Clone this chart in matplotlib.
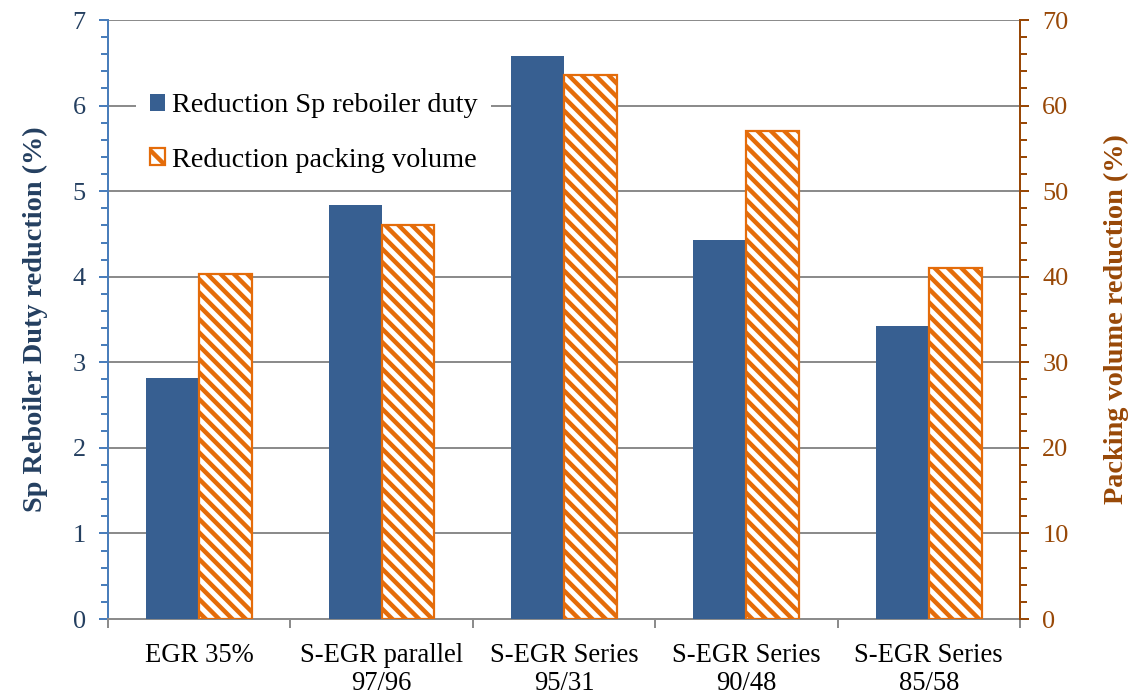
import numpy as np
import matplotlib
matplotlib.use("Agg")
import matplotlib.pyplot as plt
from matplotlib.ticker import MultipleLocator
from matplotlib.patches import Patch

# ── data ──────────────────────────────────────────────────────────────────────
CATEGORIES = ["EGR 35%", "S-EGR parallel\n97/96", "S-EGR Series\n95/31",
              "S-EGR Series\n90/48", "S-EGR Series\n85/58"]
DUTY_RED   = [2.82, 4.84, 6.58, 4.43, 3.42]      # left axis (%)
PACK_RED   = [40.3, 46.0, 63.6, 57.0, 41.0]      # right axis (%)

BLUE   = "#375F91"
ORANGE = "#E46C0A"
NAVY   = "#243F60"
BROWN  = "#984807"
GRID   = "#8C8C8C"

plt.rcParams["font.family"] = ["Liberation Serif", "DejaVu Serif"]
plt.rcParams["hatch.linewidth"] = 2.0

DPI = 160
fig = plt.figure(figsize=(1139 / DPI, 700 / DPI), dpi=DPI)
ax = fig.add_axes([0.0948, 0.1157, 0.8007, 0.8557])
ax2 = ax.twinx()

x = np.arange(len(CATEGORIES))
w = 0.29

ax.bar(x - w / 2, DUTY_RED, w, color=BLUE, zorder=3)
ax2.bar(x + w / 2, PACK_RED, w, facecolor="white", edgecolor=ORANGE,
        hatch="\\\\\\\\", linewidth=1.0, zorder=3)

# ── axes styling ──────────────────────────────────────────────────────────────
ax.set_xlim(-0.5, len(CATEGORIES) - 0.5)
ax.set_ylim(0, 7)
ax2.set_ylim(0, 70)

ax.yaxis.set_major_locator(MultipleLocator(1))
ax.yaxis.set_minor_locator(MultipleLocator(0.2))
ax2.yaxis.set_major_locator(MultipleLocator(10))
ax2.yaxis.set_minor_locator(MultipleLocator(2))

ax.grid(axis="y", color=GRID, linewidth=0.9, zorder=0)
ax.set_axisbelow(True)

ax.set_xticks(np.arange(len(CATEGORIES) + 1) - 0.5)
ax.set_xticklabels([])
ax.set_xticks(x, minor=True)
ax.set_xticklabels(CATEGORIES, minor=True, fontsize=12, ha="center",
                   linespacing=1.15)
ax.tick_params(axis="x", which="major", length=4, width=0.9, color=GRID,
               direction="out")
ax.tick_params(axis="x", which="minor", length=0, pad=11)

ax.tick_params(axis="y", which="major", length=4, width=0.9, color="#4A7EBB",
               labelcolor=NAVY, labelsize=11.8, pad=6)
ax.tick_params(axis="y", which="minor", length=3, width=0.9, color="#4A7EBB")
ax2.tick_params(axis="y", which="major", length=4, width=0.9, color=BROWN,
                labelcolor=BROWN, labelsize=11.8, pad=6)
ax2.tick_params(axis="y", which="minor", length=3, width=0.9, color=BROWN)

for a in (ax, ax2):
    a.spines["top"].set_visible(False)
ax.spines["bottom"].set_color(GRID)
ax.spines["bottom"].set_linewidth(0.9)
ax2.spines["bottom"].set_visible(False)
ax.spines["left"].set_color("#4A7EBB")
ax.spines["left"].set_linewidth(0.9)
ax2.spines["left"].set_visible(False)
ax.spines["right"].set_visible(False)
ax2.spines["right"].set_color(BROWN)
ax2.spines["right"].set_linewidth(0.9)

ax.set_ylabel("Sp Reboiler Duty reduction (%)", fontsize=12.7,
              fontweight="bold", color=NAVY, labelpad=11)
ax2.set_ylabel("Packing volume reduction (%)", fontsize=12.7,
               fontweight="bold", color=BROWN, labelpad=16, rotation=90)

handles = [Patch(facecolor=BLUE, edgecolor="none"),
           Patch(facecolor="white", edgecolor=ORANGE, hatch="\\\\\\", linewidth=1.0)]
leg = ax2.legend(handles, ["Reduction Sp reboiler duty", "Reduction packing volume"],
                 loc="upper left", bbox_to_anchor=(0.015, 0.925), fontsize=12.7,
                 frameon=True, framealpha=1, edgecolor="none", fancybox=False,
                 handlelength=0.55, handleheight=0.55, handletextpad=0.22,
                 labelspacing=1.05, borderpad=0.5)
leg.set_zorder(10)

fig.savefig("out.png", dpi=DPI)
